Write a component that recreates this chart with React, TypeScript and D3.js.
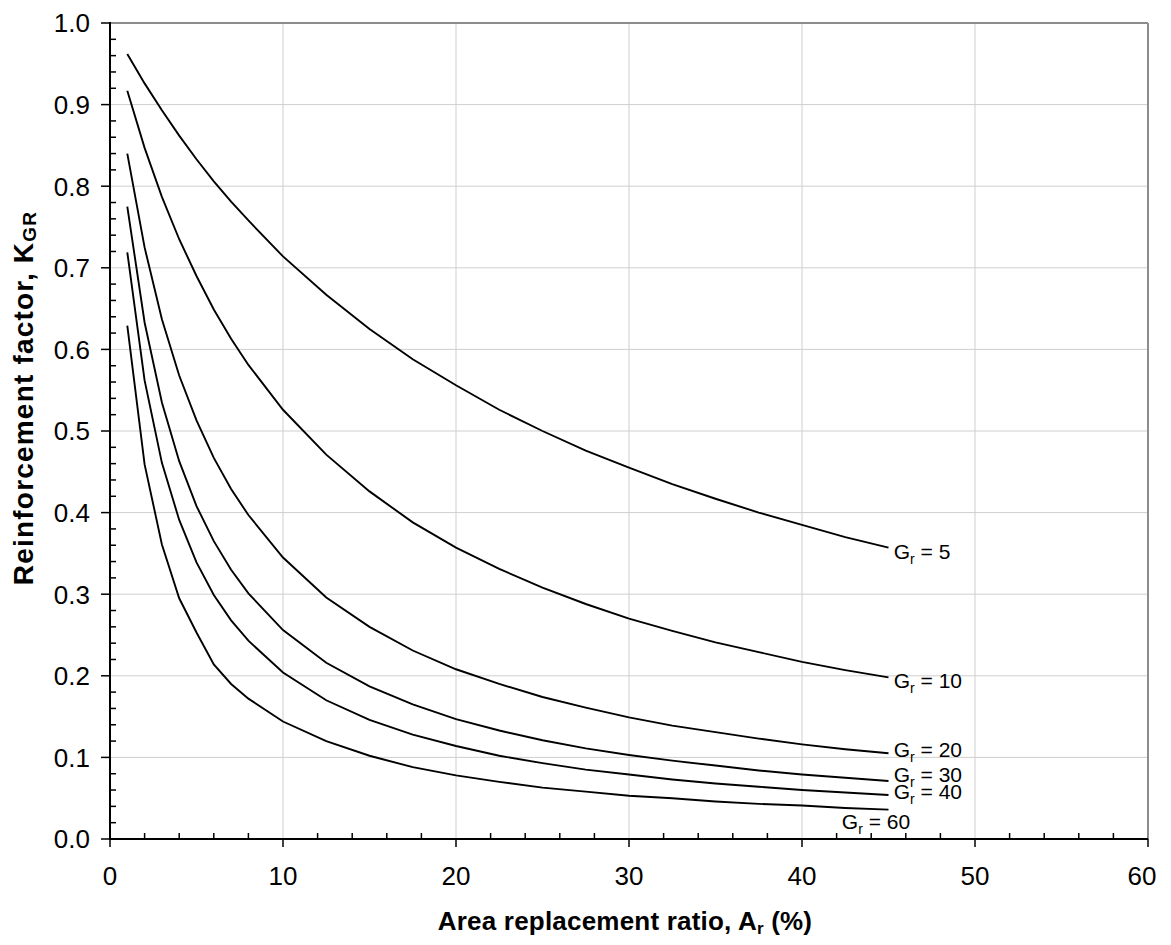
import React from "react";
import * as d3 from "d3";

// Area replacement ratio Ar (%) at which the curves were read
const AR = [1, 2, 3, 4, 5, 6, 7, 8, 10, 12.5, 15, 17.5, 20, 22.5, 25, 27.5, 30, 32.5, 35, 37.5, 40, 42.5, 45];

// Reinforcement factor K_GR
const K_GR5 = [0.962, 0.926, 0.893, 0.862, 0.833, 0.806, 0.781, 0.758, 0.714, 0.667, 0.625, 0.588, 0.556, 0.526, 0.5, 0.476, 0.455, 0.435, 0.417, 0.4, 0.385, 0.37, 0.357];
const K_GR10 = [0.917, 0.847, 0.787, 0.735, 0.69, 0.649, 0.613, 0.581, 0.526, 0.471, 0.426, 0.388, 0.357, 0.331, 0.308, 0.288, 0.27, 0.255, 0.241, 0.229, 0.217, 0.207, 0.198];
const K_GR20 = [0.84, 0.725, 0.637, 0.568, 0.513, 0.467, 0.429, 0.397, 0.345, 0.296, 0.26, 0.231, 0.208, 0.19, 0.174, 0.161, 0.149, 0.139, 0.131, 0.123, 0.116, 0.11, 0.105];
const K_GR30 = [0.775, 0.633, 0.535, 0.463, 0.408, 0.365, 0.33, 0.301, 0.256, 0.216, 0.187, 0.165, 0.147, 0.133, 0.121, 0.111, 0.103, 0.096, 0.09, 0.084, 0.079, 0.075, 0.071];
const K_GR40 = [0.719, 0.562, 0.461, 0.391, 0.339, 0.299, 0.268, 0.243, 0.204, 0.17, 0.146, 0.128, 0.114, 0.102, 0.093, 0.085, 0.079, 0.073, 0.068, 0.064, 0.06, 0.057, 0.054];
const K_GR60 = [0.629, 0.459, 0.361, 0.295, 0.253, 0.214, 0.19, 0.172, 0.144, 0.12, 0.102, 0.088, 0.078, 0.07, 0.063, 0.058, 0.053, 0.05, 0.046, 0.043, 0.041, 0.038, 0.036];

const GR_VALUES = [5, 10, 20, 30, 40, 60];
const SERIES = [K_GR5, K_GR10, K_GR20, K_GR30, K_GR40, K_GR60];

// label anchors (data units) for each curve label
const LABEL_X = [45.3, 45.3, 45.3, 45.3, 45.3, 42.3];
const LABEL_Y = [0.343, 0.185, 0.101, 0.07, 0.049, 0.012];

const X_TICKS = [0, 10, 20, 30, 40, 50, 60];
const Y_TICKS = [0, 0.1, 0.2, 0.3, 0.4, 0.5, 0.6, 0.7, 0.8, 0.9, 1.0];

const W = 1171;
const H = 945;
const M = { left: 110, right: 23, top: 23, bottom: 106 };
const FONT = "'Liberation Sans', Arial, sans-serif";

export default function App() {
  const x = d3.scaleLinear().domain([0, 60]).range([M.left, W - M.right]);
  const y = d3.scaleLinear().domain([0, 1]).range([H - M.bottom, M.top]);

  const line = d3
    .line<[number, number]>()
    .x((d) => x(d[0]))
    .y((d) => y(d[1]));

  const xMinor = d3.range(0, 60.001, 2).filter((v) => v % 10 !== 0);
  const yMinor = d3.range(0, 50.001, 1).map((v) => v * 0.02).filter((_, i) => i % 5 !== 0);

  const x0 = x(0);
  const x1 = x(60);
  const y0 = y(0);
  const y1 = y(1);

  return (
    <svg
      width={W}
      height={H}
      style={{ position: "absolute", left: 0, top: 0, background: "#fff", display: "block" }}
      fontFamily={FONT}
    >
      <rect x={0} y={0} width={W} height={H} fill="#fff" />
      {/* grid */}
      {X_TICKS.filter((v) => v > 0 && v < 60).map((v) => (
        <line key={"gx" + v} x1={x(v)} x2={x(v)} y1={y0} y2={y1} stroke="#cfcfcf" strokeWidth={1} />
      ))}
      {Y_TICKS.filter((v) => v > 0 && v < 1).map((v) => (
        <line key={"gy" + v} x1={x0} x2={x1} y1={y(v)} y2={y(v)} stroke="#cfcfcf" strokeWidth={1} />
      ))}
      {/* frame top/right */}
      <line x1={x0} x2={x1} y1={y1} y2={y1} stroke="#8c8c8c" strokeWidth={2} />
      <line x1={x1} x2={x1} y1={y1} y2={y0} stroke="#8c8c8c" strokeWidth={2} />

      {/* curves */}
      {SERIES.map((vals, i) => (
        <path
          key={"s" + i}
          d={line(AR.map((a, j) => [a, vals[j]] as [number, number])) || ""}
          fill="none"
          stroke="#000"
          strokeWidth={1.9}
        />
      ))}

      {/* curve labels */}
      {GR_VALUES.map((g, i) => (
        <text key={"l" + g} x={x(LABEL_X[i])} y={y(LABEL_Y[i])} fontSize={21} fill="#000">
          G
          <tspan fontSize={14} dy={5}>r</tspan>
          <tspan dy={-5}>{` = ${g}`}</tspan>
        </text>
      ))}

      {/* axes */}
      <line x1={x0} x2={x0} y1={y1 - 1} y2={y0 + 1} stroke="#000" strokeWidth={2} />
      <line x1={x0 - 1} x2={x1} y1={y0} y2={y0} stroke="#000" strokeWidth={2} />

      {/* y ticks */}
      {Y_TICKS.map((v) => (
        <g key={"yt" + v}>
          <line x1={x0 - 9} x2={x0} y1={y(v)} y2={y(v)} stroke="#000" strokeWidth={1.5} />
          <text x={x0 - 20} y={y(v)} dy="0.36em" textAnchor="end" fontSize={26} fill="#000">
            {d3.format(".1f")(v)}
          </text>
        </g>
      ))}
      {yMinor.map((v) => (
        <line key={"ym" + v} x1={x0} x2={x0 + 6} y1={y(v)} y2={y(v)} stroke="#000" strokeWidth={1.5} />
      ))}

      {/* x ticks */}
      {X_TICKS.map((v) => (
        <g key={"xt" + v}>
          <line x1={x(v)} x2={x(v)} y1={y0} y2={y0 + 8} stroke="#000" strokeWidth={1.5} />
          <text x={x(v) + (v === 60 ? -6 : 0)} y={y0 + 46} textAnchor="middle" fontSize={26} fill="#000">
            {v}
          </text>
        </g>
      ))}
      {xMinor.map((v) => (
        <line key={"xm" + v} x1={x(v)} x2={x(v)} y1={y0} y2={y0 - 6} stroke="#000" strokeWidth={1.5} />
      ))}

      {/* axis titles */}
      <text
        x={(x0 + x1) / 2 - 4}
        y={930}
        textAnchor="middle"
        fontSize={26}
        fontWeight="bold"
        letterSpacing={0.2}
        fill="#000"
      >
        Area replacement ratio, A
        <tspan fontSize={17} dy={4}>r</tspan>
        <tspan dy={-4}> (%)</tspan>
      </text>
      <text
        transform={`translate(33, 398) rotate(-90)`}
        textAnchor="middle"
        fontSize={28}
        fontWeight="bold"
        letterSpacing={1.2}
        fill="#000"
      >
        Reinforcement factor, K
        <tspan fontSize={19} dy={3}>GR</tspan>
      </text>
    </svg>
  );
}
